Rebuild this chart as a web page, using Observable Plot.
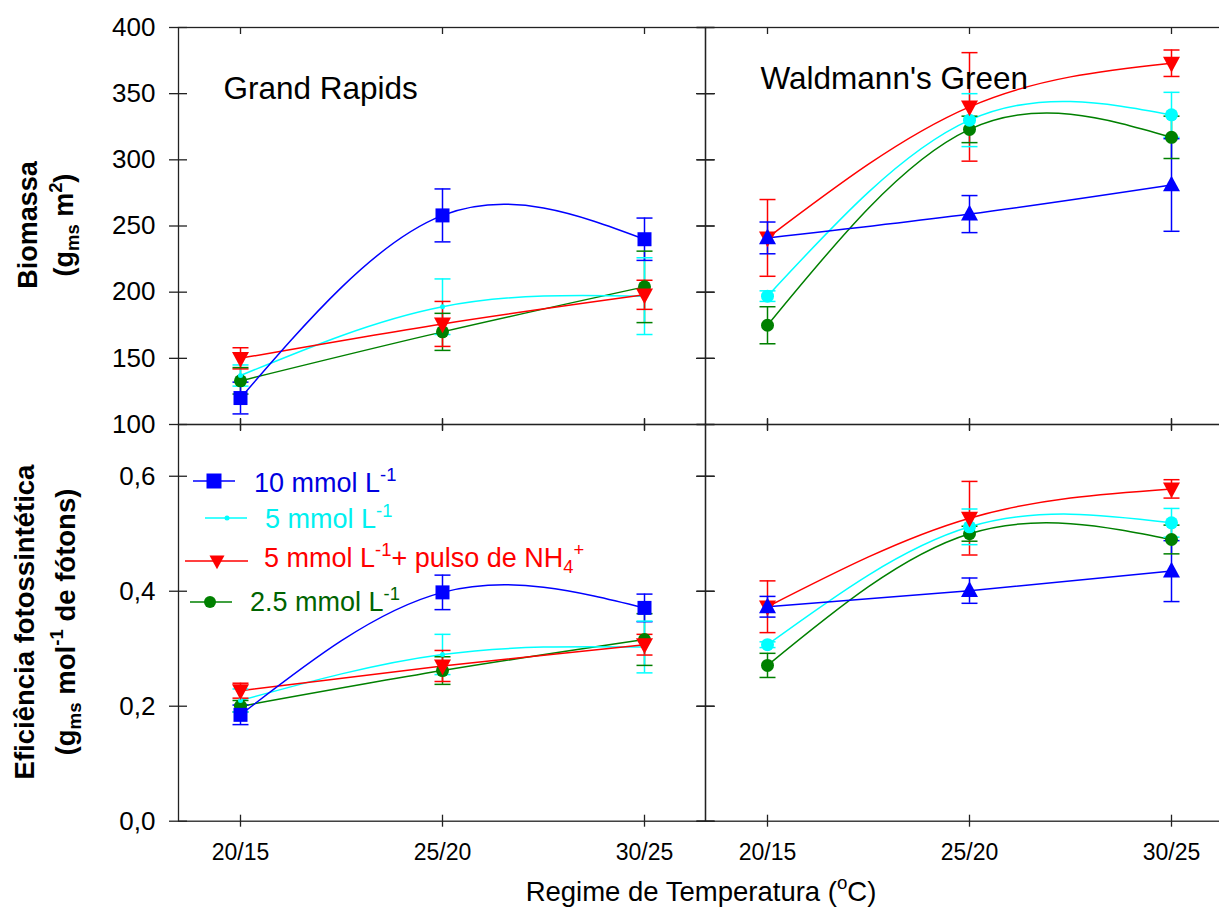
<!DOCTYPE html>
<html>
<head>
<meta charset="utf-8">
<script src="https://cdn.jsdelivr.net/npm/d3@7"></script>
<script src="https://cdn.jsdelivr.net/npm/@observablehq/plot@0.6"></script>
<style>
  html, body { margin: 0; padding: 0; background: #fff; overflow: hidden; }
  #chart { position: relative; width: 1219px; height: 913px; overflow: hidden; background: #fff; }
  #chart > svg { position: absolute; left: 0; }
</style>
</head>
<body>
<div id="chart"></div>
<script>
// ---------- DATA ----------
const regimes = ["20/15", "25/20", "30/25"];
const cultivars = ["Grand Rapids", "Waldmann's Green"];
const seriesKeys = ["10 mmol", "5 mmol", "5 mmol + NH4", "2.5 mmol"];
const seriesColors = ["#0000ff", "#00ffff", "#ff0000", "#008000"];

// Biomassa (g m-2) — rows: 10, 5, 5+NH4, 2.5 mmol; columns: regimes
const biomassGR    = [[120, 258, 240], [137, 189, 197], [150, 176, 198], [133, 170, 204]];
const biomassGRErr = [[12, 20, 16],    [8, 21, 29],     [8, 17, 11],     [10, 14, 27]];
const biomassWG    = [[241, 259, 281], [197, 330, 334], [241, 340, 373], [175, 323, 317]];
const biomassWGErr = [[12, 14, 35],    [4, 20, 17],     [29, 41, 10],    [14, 10, 16]];

// Eficiência fotossintética (g mol-1 de fótons)
const effGR    = [[0.185, 0.398, 0.371], [0.21, 0.29, 0.303], [0.227, 0.27, 0.307], [0.2, 0.262, 0.316]];
const effGRErr = [[0.017, 0.03, 0.024],  [0.02, 0.035, 0.045], [0.013, 0.027, 0.018], [0.01, 0.024, 0.045]];
const effWG    = [[0.373, 0.401, 0.435], [0.307, 0.512, 0.519], [0.373, 0.527, 0.578], [0.271, 0.5, 0.49]];
const effWGErr = [[0.018, 0.022, 0.053], [0.005, 0.031, 0.025], [0.045, 0.064, 0.016], [0.021, 0.013, 0.025]];

const biomassTicks = [100, 150, 200, 250, 300, 350, 400];
const effTicks = [0, 0.2, 0.4, 0.6];

// ---------- HELPERS ----------
const FONT = "'Liberation Sans', Arial, sans-serif";
const drawOrder = [3, 1, 2, 0]; // green, cyan, red, blue (blue on top)

function buildRows(gr, grErr, wg, wgErr) {
  const out = [];
  [[gr, grErr, cultivars[0]], [wg, wgErr, cultivars[1]]].forEach(([m, e, c]) => {
    drawOrder.forEach(si => {
      regimes.forEach((r, ri) => {
        out.push({cultivar: c, series: seriesKeys[si], regime: r,
                  v: m[si][ri], lo: m[si][ri] - e[si][ri], hi: m[si][ri] + e[si][ri]});
      });
    });
  });
  return out;
}

const rad = size => Math.sqrt(size / Math.PI);
const triUp = {draw(ctx, size) { const r = rad(size); ctx.moveTo(0, -1.1 * r); ctx.lineTo(r, 0.75 * r); ctx.lineTo(-r, 0.75 * r); ctx.closePath(); }};
const triDown = {draw(ctx, size) { const r = rad(size); ctx.moveTo(0, 1.1 * r); ctx.lineTo(r, -0.75 * r); ctx.lineTo(-r, -0.75 * r); ctx.closePath(); }};
const capSym = {draw(ctx, size) { const r = rad(size); ctx.moveTo(-r, 0); ctx.lineTo(r, 0); }};

const markerSpecs = [
  {series: "2.5 mmol", cultivar: null, symbol: "circle", r: 6.5},
  {series: "5 mmol", cultivar: "Grand Rapids", symbol: "circle", r: 2.5},
  {series: "5 mmol", cultivar: "Waldmann's Green", symbol: "circle", r: 6.5},
  {series: "5 mmol + NH4", cultivar: null, symbol: triDown, r: 8.5},
  {series: "10 mmol", cultivar: "Grand Rapids", symbol: "square", r: 7.9},
  {series: "10 mmol", cultivar: "Waldmann's Green", symbol: triUp, r: 8.5}
];

function panelPlot(rows, o) {
  const axisStroke = "#222";
  const marks = [
    Plot.frame({stroke: axisStroke, strokeWidth: 1.3}),
    // crossing y ticks on both sides of every panel
    Plot.axisY(o.yTicks, {anchor: "left", tickSize: 18, dx: 9, fill: "none", stroke: axisStroke, strokeWidth: 1.3, label: null, facetAnchor: null}),
    Plot.axisY(o.yTicks, {anchor: "right", tickSize: 18, dx: -9, fill: "none", stroke: axisStroke, strokeWidth: 1.3, label: null, facetAnchor: null}),
    // x ticks
    Plot.axisX({anchor: "bottom", tickSize: 12, dy: -6, fill: "none", stroke: axisStroke, strokeWidth: 1.3, label: null, facetAnchor: null}),
    Plot.axisX({anchor: "top", tickSize: o.topTick, dy: o.topDy, fill: "none", stroke: axisStroke, strokeWidth: 1.3, label: null, facetAnchor: null}),
    // y tick labels
    Plot.axisY(o.yTicks, {anchor: "left", tickSize: 0, tickPadding: 23, tickFormat: o.fmt, fontSize: 26, fill: "#000", label: null}),
    // series
    Plot.line(rows, {fx: "cultivar", x: "regime", y: "v", z: "series", stroke: "series", curve: "natural", strokeWidth: 1.5}),
    Plot.ruleX(rows, {fx: "cultivar", x: "regime", y1: "lo", y2: "hi", stroke: "series", strokeWidth: 1.5}),
    Plot.dot(rows, {fx: "cultivar", x: "regime", y: "lo", symbol: capSym, r: 8, stroke: "series", fill: "none", strokeWidth: 1.5}),
    Plot.dot(rows, {fx: "cultivar", x: "regime", y: "hi", symbol: capSym, r: 8, stroke: "series", fill: "none", strokeWidth: 1.5})
  ];
  markerSpecs.forEach(m => {
    marks.push(Plot.dot(rows.filter(d => d.series === m.series && (m.cultivar === null || d.cultivar === m.cultivar)),
      {fx: "cultivar", x: "regime", y: "v", symbol: m.symbol, r: m.r, fill: "series", stroke: "none"}));
  });
  if (o.xLabels) {
    marks.push(Plot.axisX({anchor: "bottom", tickSize: 0, tickPadding: 22, fontSize: 23, fill: "#000", label: null}));
  }
  if (o.panelTitles) {
    marks.push(Plot.text([{c: cultivars[0]}], {fx: "c", text: "c", frameAnchor: "top-left", textAnchor: "start", dx: 45, dy: 49, fontSize: 31.5, fill: "#000"}));
    marks.push(Plot.text([{c: cultivars[1]}], {fx: "c", text: "c", frameAnchor: "top-left", textAnchor: "start", dx: 55, dy: 39, fontSize: 31.5, fill: "#000"}));
  }
  const svg = Plot.plot({
    width: 1232, height: o.height,
    marginLeft: 178, marginRight: 0, marginTop: o.marginTop, marginBottom: o.marginBottom,
    style: {background: "transparent", overflow: "visible", maxWidth: "none", fontFamily: FONT, fontSize: "26px", color: "#000"},
    fx: {domain: cultivars, padding: 0, axis: null, label: null},
    x: {type: "point", domain: regimes, padding: 0.3, axis: null},
    y: {domain: o.yDomain, axis: null},
    color: {domain: seriesKeys, range: seriesColors},
    marks
  });
  svg.style.top = o.top + "px";
  return svg;
}

const chart = document.getElementById("chart");
chart.appendChild(panelPlot(buildRows(biomassGR, biomassGRErr, biomassWG, biomassWGErr), {
  top: 0, height: 440, marginTop: 27, marginBottom: 16, yDomain: [100, 400], yTicks: biomassTicks,
  fmt: d => String(d), topTick: 6, topDy: 6, xLabels: false, panelTitles: true
}));
chart.appendChild(panelPlot(buildRows(effGR, effGRErr, effWG, effWGErr), {
  top: 400, height: 513, marginTop: 24, marginBottom: 92.3, yDomain: [0, 0.69], yTicks: effTicks,
  fmt: d => d.toFixed(1).replace(".", ","), topTick: 12, topDy: 6, xLabels: true, panelTitles: false
}));

// ---------- OVERLAY: axis titles + legend ----------
const ov = d3.select("#chart").append("svg")
  .attr("width", 1219).attr("height", 913)
  .style("top", "0px").style("pointer-events", "none")
  .style("font-family", FONT);

function rich(textSel, parts, size) {
  parts.forEach(p => {
    const ts = textSel.append("tspan").text(p.t);
    if (p.sup) ts.attr("font-size", size * 0.68).attr("baseline-shift", size * 0.42);
    if (p.sub) ts.attr("font-size", size * 0.68).attr("baseline-shift", -size * 0.22);
    if (p.dx) ts.attr("dx", p.dx);
  });
}

function yTitle(x, y, parts, size) {
  const t = ov.append("text").attr("transform", `translate(${x},${y}) rotate(-90)`)
    .attr("text-anchor", "middle").attr("font-weight", "bold").attr("font-size", size).attr("fill", "#000");
  rich(t, parts, size);
}
yTitle(37, 225, [{t: "Biomassa"}], 27);
yTitle(73, 225, [{t: "(g"}, {t: "ms", sub: true}, {t: " m"}, {t: "2", sup: true}, {t: ")"}], 27);
yTitle(34, 622, [{t: "Eficiência fotossintética"}], 27.5);
yTitle(75, 622, [{t: "(g"}, {t: "ms", sub: true}, {t: " mol"}, {t: "-1", sup: true}, {t: " de fótons)"}], 27.5);

const xt = ov.append("text").attr("x", 701).attr("y", 901).attr("text-anchor", "middle").attr("font-size", 27.5).attr("fill", "#000");
rich(xt, [{t: "Regime de Temperatura ("}, {t: "o", sup: true}, {t: "C)"}], 27.5);

// legend
const LF = 27;
const legendItems = [
  {key: "10 mmol", color: "#0000ff", text: "#0000e0", x1: 193, x2: 235, mx: 214, y: 481, tx: 254, ty: 492, sym: d3.symbolSquare, size: 225,
   parts: [{t: "10 mmol L"}, {t: "-1", sup: true}]},
  {key: "5 mmol", color: "#00ffff", text: "#00f0f0", x1: 205, x2: 247, mx: 227, y: 518, tx: 265, ty: 528, sym: d3.symbolCircle, size: Math.PI * 2.5 * 2.5,
   parts: [{t: "5 mmol L"}, {t: "-1", sup: true}]},
  {key: "5 mmol + NH4", color: "#ff0000", text: "#ff0000", x1: 185, x2: 248, mx: 217, y: 561, tx: 264, ty: 567, sym: triDown, size: Math.PI * 7.5 * 7.5,
   parts: [{t: "5 mmol L"}, {t: "-1", sup: true}, {t: "+ pulso de NH"}, {t: "4", sub: true}, {t: "+", sup: true}]},
  {key: "2.5 mmol", color: "#008000", text: "#006400", x1: 190, x2: 232, mx: 210, y: 602, tx: 250, ty: 611, sym: d3.symbolCircle, size: Math.PI * 6 * 6,
   parts: [{t: "2.5 mmol L"}, {t: "-1", sup: true}]}
];
legendItems.forEach(it => {
  ov.append("line").attr("x1", it.x1).attr("x2", it.x2).attr("y1", it.y).attr("y2", it.y)
    .attr("stroke", it.color).attr("stroke-width", 1.5);
  ov.append("path").attr("d", d3.symbol(it.sym, it.size)()).attr("transform", `translate(${it.mx},${it.y})`).attr("fill", it.color);
  const t = ov.append("text").attr("x", it.tx).attr("y", it.ty).attr("font-size", LF).attr("fill", it.text);
  rich(t, it.parts, LF);
});
</script>
</body>
</html>
